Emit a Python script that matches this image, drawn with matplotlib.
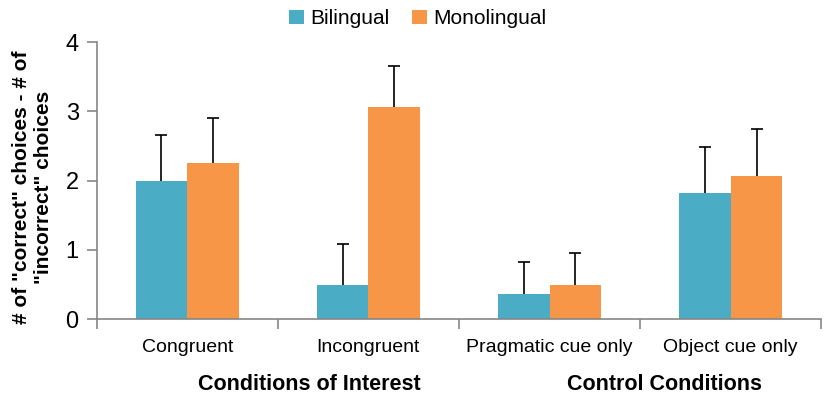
import numpy as np
import matplotlib.pyplot as plt

plt.rcParams['font.family'] = ['Liberation Sans', 'DejaVu Sans']

categories = ['Congruent', 'Incongruent', 'Pragmatic cue only', 'Object cue only']
bilingual = [2.00, 0.50, 0.37, 1.82]
bilingual_err = [0.66, 0.59, 0.45, 0.67]
monolingual = [2.25, 3.07, 0.50, 2.06]
monolingual_err = [0.66, 0.59, 0.45, 0.68]
groups = ['Conditions of Interest', 'Control Conditions']

blue = '#4bacc6'
orange = '#f79646'

fig = plt.figure(figsize=(8.27, 3.94), dpi=100)
ax = fig.add_axes([0.117, 0.190, 0.876, 0.703])

x = np.arange(len(categories))
w = 1 / 3.5
for off, vals, errs, col, lab in [(-w / 2, bilingual, bilingual_err, blue, 'Bilingual'),
                                  (w / 2, monolingual, monolingual_err, orange, 'Monolingual')]:
    bars = ax.bar(x + off, vals, w, color=col, label=lab,
                  yerr=[np.zeros(len(x)), errs], capsize=4.5,
                  error_kw=dict(ecolor='black', elinewidth=1.2, capthick=1.2))
    # only the upper cap is shown
    bars.errorbar.lines[1][0].set_visible(False)

ax.set_xlim(-0.5, len(categories) - 0.5)
ax.set_ylim(0, 4)
ax.set_yticks([0, 1, 2, 3, 4])
ax.tick_params(axis='y', labelsize=17, color='#868686', length=7, width=1.2, pad=6)

# category labels and boundary ticks
ax.set_xticks(x)
ax.set_xticklabels(categories, fontsize=14)
ax.tick_params(axis='x', length=0, pad=14)
ax.set_xticks(np.arange(len(categories) + 1) - 0.5, minor=True)
ax.tick_params(axis='x', which='minor', length=7, color='#868686', width=1.2)

for s in ['top', 'right']:
    ax.spines[s].set_visible(False)
for s in ['left', 'bottom']:
    ax.spines[s].set_color('#868686')
    ax.spines[s].set_linewidth(1.2)

group_x = [0.294, 0.783]
for gx, g in zip(group_x, groups):
    ax.text(gx, -0.235, g, ha='center', va='center', fontsize=15.5,
            fontweight='bold', transform=ax.transAxes)

ax.set_ylabel('# of "correct" choices - # of\n"incorrect" choices', fontsize=15,
              fontweight='bold', linespacing=1.25)
ax.yaxis.set_label_coords(-0.06, 0.475)

fig.legend(loc='upper center', bbox_to_anchor=(0.505, 1.0), ncol=2, frameon=False,
           fontsize=15, handlelength=0.7, handleheight=0.7, handletextpad=0.3,
           columnspacing=1.1, borderaxespad=0.05)

fig.savefig('out.png', dpi=100)
